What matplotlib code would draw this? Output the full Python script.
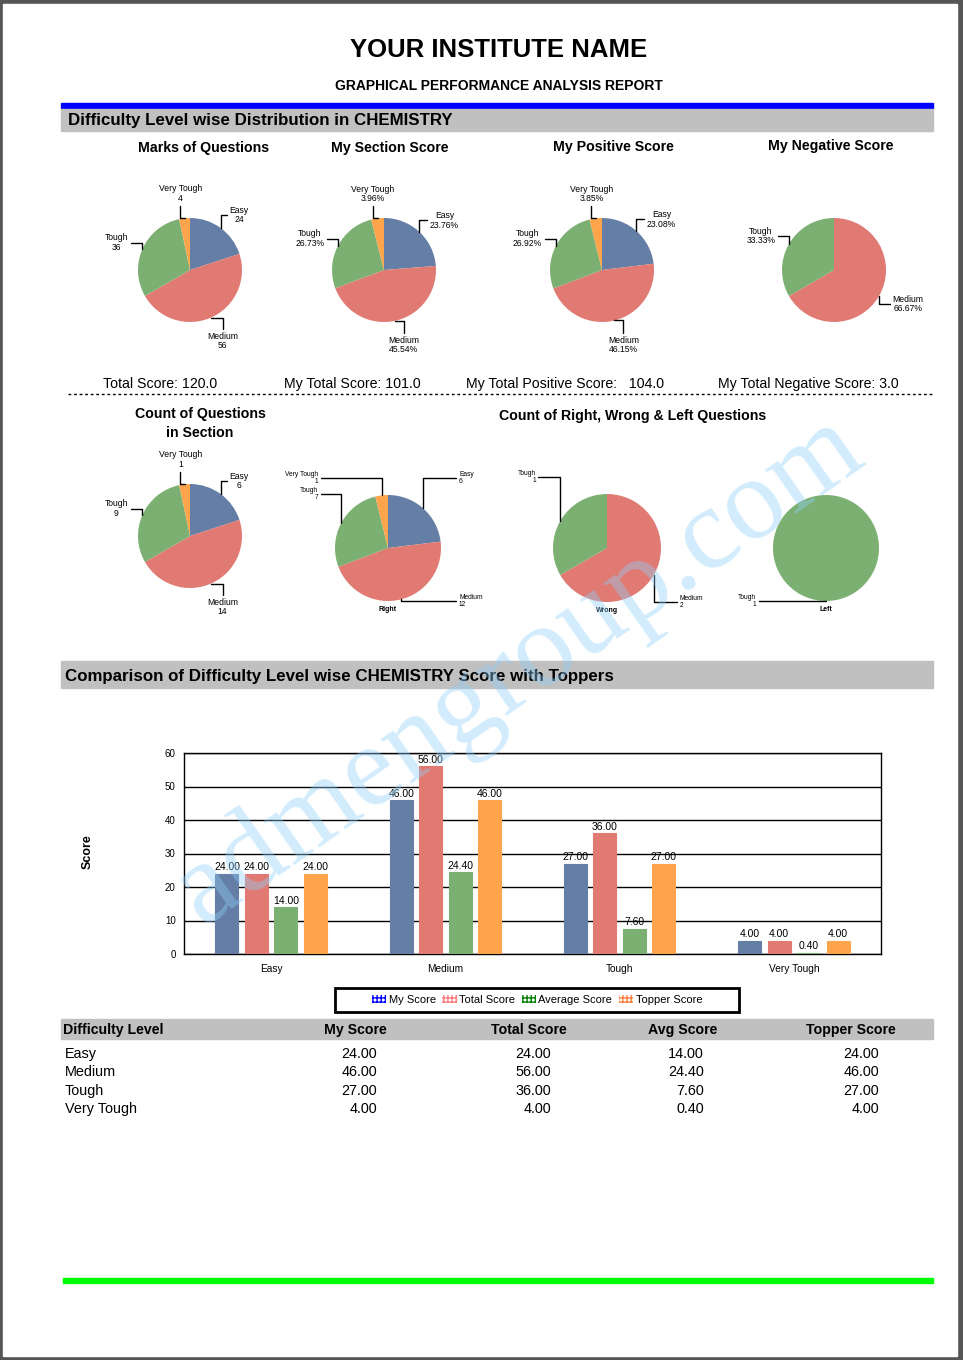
import numpy as np
import matplotlib
matplotlib.use("Agg")
import matplotlib.pyplot as plt
from matplotlib.patches import Rectangle, Patch

plt.rcParams['font.family'] = ['Liberation Sans', 'DejaVu Sans']
plt.rcParams['hatch.linewidth'] = 1.0

# ---- data ----
categories = ['Easy', 'Medium', 'Tough', 'Very Tough']
marks_of_questions = [24, 56, 36, 4]
my_section_score = [24, 46, 27, 4]
my_positive_score = [24, 48, 28, 4]
my_negative_score = [0, 2, 1, 0]
count_in_section = [6, 14, 9, 1]
count_right = [6, 12, 7, 1]
count_wrong = [0, 2, 1, 0]
count_left = [0, 0, 1, 0]

my_score = [24.0, 46.0, 27.0, 4.0]
total_score = [24.0, 56.0, 36.0, 4.0]
avg_score = [14.0, 24.4, 7.6, 0.4]
topper_score = [24.0, 46.0, 27.0, 4.0]
series_names = ['My Score', 'Total Score', 'Average Score', 'Topper Score']
table_headers = ['Difficulty Level', 'My Score', 'Total Score', 'Avg Score', 'Topper Score']

cat_colors = ['#657ea6', '#e07a73', '#7cb072', '#fea54b']
legend_colors = ['#0000ff', '#ff7f7f', '#008000', '#ff8040']

W, H = 963, 1360
fig = plt.figure(figsize=(W / 100, H / 100), dpi=100, facecolor='#555555')

page = fig.add_axes([0, 0, 1, 1])
page.set_xlim(0, W)
page.set_ylim(H, 0)
page.axis('off')
page.add_patch(Rectangle((3, 4), 954, 1352, color='white', zorder=0))


def ptext(x, y, s, size, bold=False, ha='left', **kw):
    page.text(x, y, s, fontsize=size, fontweight='bold' if bold else 'normal',
              ha=ha, va='center', **kw)


# header
ptext(499, 50, 'YOUR INSTITUTE NAME', 18.5, True, 'center')
ptext(499, 86, 'GRAPHICAL PERFORMANCE ANALYSIS REPORT', 10, True, 'center')
page.add_patch(Rectangle((61, 103), 872, 5, color='#0000ff'))
page.add_patch(Rectangle((61, 109), 872, 22, color='#c0c0c0'))
ptext(68, 121, 'Difficulty Level wise Distribution in CHEMISTRY', 12.2, True)

# pie titles
ptext(204, 148, 'Marks of Questions', 10.2, True, 'center')
ptext(390, 148, 'My Section Score', 10.2, True, 'center')
ptext(613, 147, 'My Positive Score', 10.2, True, 'center')
ptext(831, 146, 'My Negative Score', 10.2, True, 'center')

ptext(103, 384, 'Total Score: %.1f' % sum(marks_of_questions), 10.2)
ptext(284, 384, 'My Total Score: %.1f' % sum(my_section_score), 10.2)
ptext(466, 384, 'My Total Positive Score:   %.1f' % sum(my_positive_score), 10.2)
ptext(718, 384, 'My Total Negative Score: %.1f' % sum(my_negative_score), 10.2)
page.plot([68, 933], [394, 394], color='black', lw=1, ls=(0, (2, 2)))

ptext(200, 414, 'Count of Questions', 10.2, True, 'center')
ptext(200, 433, 'in Section', 10.2, True, 'center')
ptext(633, 416, 'Count of Right, Wrong & Left Questions', 10.2, True, 'center')


def pie_at(cx, cy, r, values, percent=False, style='A', name=None):
    span = 1.8
    ax = fig.add_axes([(cx - span * r) / W, 1 - (cy + span * r) / H,
                       2 * span * r / W, 2 * span * r / H])
    idx = [i for i, v in enumerate(values) if v > 0]
    vals = [values[i] for i in idx]
    total = float(sum(vals))
    wedges, _ = ax.pie(vals, colors=[cat_colors[i] for i in idx], startangle=90,
                       counterclock=False, radius=1, wedgeprops=dict(linewidth=0))
    ax.set_xlim(-span, span)
    ax.set_ylim(-span, span)
    ax.axis('off')
    items = []
    for w, i, v in zip(wedges, idx, vals):
        mid = np.deg2rad((w.theta1 + w.theta2) / 2)
        c, s = np.cos(mid), np.sin(mid)
        if percent:
            txt = '%s\n%.2f%%' % (categories[i], 100 * v / total)
        else:
            txt = '%s\n%d' % (categories[i], v)
        items.append((c, s, txt))
    # style B stacks labels in columns, topmost wedge first
    items.sort(key=lambda t: -abs(t[1]))
    slots = {}
    for c, s, txt in items:
        if style == 'A':
            if abs(c) < 0.45:
                ha, va = 'center', ('bottom' if s > 0 else 'top')
                conn = 'angle,angleA=90,angleB=0,rad=0'
                nudge = (0.05 if s > 0 else 0.1) * np.sign(c)
                pos = (1.3 * c + nudge, 1.3 * s)
            else:
                ha, va = ('left' if c > 0 else 'right'), 'center'
                conn = 'angle,angleA=0,angleB=90,rad=0'
                pos = (1.3 * c, 1.3 * s)
            fs, ma = 6.2, 'center'
        else:
            right = c > 0.01
            key = (right, s > 0)
            k = slots.get(key, 0)
            slots[key] = k + 1
            y = 1.32 - 0.3 * k if s > 0 else -1.0 - 0.3 * k
            ha = 'left' if right else 'right'
            va = 'center'
            pos = (1.34 if right else -1.32, y)
            conn = 'angle,angleA=0,angleB=90,rad=0'
            fs, ma = 4.8, ha
        ax.annotate(txt, xy=(c, s), xytext=pos, ha=ha, va=va, fontsize=fs,
                    multialignment=ma, linespacing=1.05, annotation_clip=False,
                    arrowprops=dict(arrowstyle='-', color='black', lw=1,
                                    shrinkA=0, shrinkB=0, connectionstyle=conn))
    if name:
        ax.text(0, -1.16, name, ha='center', va='center', fontsize=5,
                fontweight='bold')
    return ax


pie_at(190, 270, 52, marks_of_questions)
pie_at(384, 270, 52, my_section_score, percent=True)
pie_at(602, 270, 52, my_positive_score, percent=True)
pie_at(834, 270, 52, my_negative_score, percent=True)
pie_at(190, 536, 52, count_in_section)
pie_at(388, 548, 53, count_right, style='B', name='Right')
pie_at(607, 548, 54, count_wrong, style='B', name='Wrong')
pie_at(826, 548, 53, count_left, style='B', name='Left')

# comparison section
page.add_patch(Rectangle((61, 661), 872, 27, color='#c0c0c0'))
ptext(65, 677, 'Comparison of Difficulty Level wise CHEMISTRY Score with Toppers', 12.2, True)

bx = fig.add_axes([184 / W, 1 - 954 / H, 697 / W, 201 / H])
x = np.arange(len(categories))
series = [my_score, total_score, avg_score, topper_score]
step, bw = 0.169, 0.132
for j, vals in enumerate(series):
    xs = x + (j - 1.5) * step
    bx.bar(xs, vals, width=bw, color=cat_colors[j], edgecolor=cat_colors[j],
           lw=0.8, zorder=3)
    for xi, v in zip(xs, vals):
        bx.annotate('%.2f' % v, (xi, v), xytext=(0, 1), textcoords='offset points',
                    ha='center', va='bottom', fontsize=7.5, zorder=4)
bx.set_xlim(-0.5, len(categories) - 0.5)
bx.set_ylim(0, 60)
bx.set_yticks(range(0, 61, 10))
bx.set_xticks(x)
bx.set_xticklabels(categories, fontsize=7.3)
bx.tick_params(axis='both', length=0)
bx.tick_params(axis='y', pad=6, labelsize=7)
bx.tick_params(axis='x', pad=7)
bx.yaxis.grid(True, color='black', lw=1, zorder=1)
for sp in bx.spines.values():
    sp.set_linewidth(1)
ptext(88, 852, 'Score', 9, True, 'center', rotation=90)

page.add_patch(Rectangle((335, 988), 404, 24, fill=False, edgecolor='black', lw=2))
handles = [Patch(facecolor='none', edgecolor=c, hatch='++++', lw=0) for c in legend_colors]
bx.legend(handles, series_names, loc='center', bbox_to_anchor=(537 / W, 1 - 1000 / H),
          bbox_transform=fig.transFigure, ncol=4, frameon=False, fontsize=8,
          handlelength=1.3, handleheight=0.7, handletextpad=0.2, columnspacing=0.6)

# table
page.add_patch(Rectangle((61, 1019), 872, 20, color='#c0c0c0'))
ptext(63, 1030, table_headers[0], 10.2, True)
for hx, h in zip([355, 529, 683, 851], table_headers[1:]):
    ptext(hx, 1030, h, 10.2, True, 'center')
row_y = [1054, 1072, 1091, 1109]
col_x = [377, 551, 704, 879]
for ry, i in zip(row_y, range(len(categories))):
    ptext(65, ry, categories[i], 10.4)
    for cx_, vals in zip(col_x, series):
        ptext(cx_, ry, '%.2f' % vals[i], 10.4, ha='right')

page.add_patch(Rectangle((63, 1278), 870, 5, color='#00ff00'))

# watermark
fig.text(520 / W, 1 - 670 / H, 'admengroup.com', rotation=35, fontsize=84,
         family='Liberation Serif', color='#8fd0fb', alpha=0.4,
         ha='center', va='center', zorder=100)

fig.savefig('out.png', dpi=100, facecolor=fig.get_facecolor())
